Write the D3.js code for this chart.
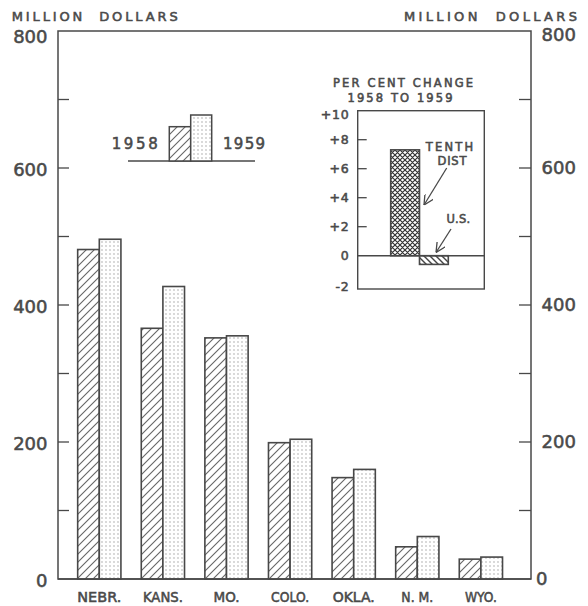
<!DOCTYPE html>
<html><head><meta charset="utf-8">
<script src="https://cdn.jsdelivr.net/npm/d3@7"></script>
<style>body{margin:0;background:#fff}text{font-family:"DejaVu Sans",sans-serif;fill:#4a4a4a;stroke:#4a4a4a;stroke-width:0.55}</style>
</head><body><svg id="c" width="588" height="606"></svg>
<script>
const categories = ["NEBR.","KANS.","MO.","COLO.","OKLA.","N. M.","WYO."];
const values1958 = [481,366,352,199,148,47,29];
const values1959 = [496,427,355,204,160,62,32];
const yTicks = [0,200,400,600,800];
const yMinor = [100,300,500,700];
const insetCats = ["TENTH DIST","U.S."];
const insetValues = [7.3,-0.6];
const insetTicks = [-2,0,2,4,6,8,10];
const insetTickLabels = ["-2","0","+2","+4","+6","+8","+10"];

const svg = d3.select("#c");
const ink = "#484848";
const defs = svg.append("defs");
const hp = defs.append("pattern").attr("id","hatch").attr("patternUnits","userSpaceOnUse").attr("width",8).attr("height",8);
hp.append("rect").attr("width",8).attr("height",8).attr("fill","#fff");
hp.append("path").attr("d","M-2,2 l4,-4 M0,8 l8,-8 M6,10 l4,-4").attr("stroke","#666").attr("stroke-width",1.1);
const dp = defs.append("pattern").attr("id","dots").attr("patternUnits","userSpaceOnUse").attr("width",4).attr("height",4);
dp.append("rect").attr("width",4).attr("height",4).attr("fill","#fff");
dp.append("circle").attr("cx",2).attr("cy",2).attr("r",0.7).attr("fill","#999");
const bp = defs.append("pattern").attr("id","bhatch").attr("patternUnits","userSpaceOnUse").attr("width",6).attr("height",6);
bp.append("rect").attr("width",6).attr("height",6).attr("fill","#fff");
bp.append("path").attr("d","M-2,-2 l10,10 M-2,4 l4,4 M4,-2 l4,4").attr("stroke","#444").attr("stroke-width",1.4);
const cp = defs.append("pattern").attr("id","cross").attr("patternUnits","userSpaceOnUse").attr("width",5).attr("height",5);
cp.append("rect").attr("width",5).attr("height",5).attr("fill","#fff");
cp.append("path").attr("d","M-1,-1 l7,7 M-1,6 l7,-7 M-1,4 l2,2 M4,-1 l2,2 M-1,1 l2,-2 M4,6 l2,-2").attr("stroke","#333").attr("stroke-width",1.2);
const mk = defs.append("marker").attr("id","arr").attr("viewBox","0 0 10 10").attr("refX",10).attr("refY",5)
  .attr("markerWidth",10).attr("markerHeight",10).attr("markerUnits","userSpaceOnUse").attr("orient","auto");
mk.append("path").attr("d","M0,0 L10,5 L0,10").attr("fill","none").attr("stroke",ink).attr("stroke-width",1.3);

function txt(x,y,s,size,len,anchor,adj){
  const t = svg.append("text").attr("x",x).attr("y",y).attr("font-size",size).attr("text-anchor",anchor||"start")
    .attr("xml:space","preserve").text(s);
  if(len) t.attr("textLength",len).attr("lengthAdjust",adj||"spacing");
  return t;
}

const L=58, R=531, T=31, B=579;
const y = d3.scaleLinear().domain([0,800]).range([B,T]);
const x = d3.scaleBand().domain(categories).range([67.5,512.7]).paddingInner(0.32).paddingOuter(0.16);
const xs = d3.scaleBand().domain(["1958","1959"]).range([0,x.bandwidth()]);

svg.append("rect").attr("x",L).attr("y",T).attr("width",R-L).attr("height",B-T).attr("fill","none").attr("stroke",ink).attr("stroke-width",1.5);
const allTicks = yTicks.concat(yMinor).filter(v=>v>0&&v<800);
svg.append("g").selectAll("line").data(allTicks).join("line").attr("x1",L).attr("x2",L+11).attr("y1",d=>y(d)).attr("y2",d=>y(d)).attr("stroke",ink).attr("stroke-width",1.3);
svg.append("g").selectAll("line").data(allTicks).join("line").attr("x1",R-12).attr("x2",R).attr("y1",d=>y(d)).attr("y2",d=>y(d)).attr("stroke",ink).attr("stroke-width",1.3);
svg.append("g").selectAll("text").data(yTicks).join("text").attr("x",47.5).attr("y",d=>Math.max(y(d)+1.5,37)).attr("dy","0.36em")
  .attr("text-anchor","end").attr("font-size",18).text(d=>d);
svg.append("g").selectAll("text").data(yTicks).join("text").attr("x",d=>d===0?536:541.5).attr("y",d=>Math.max(y(d)-0.5,34.5)).attr("dy","0.36em")
  .attr("text-anchor","start").attr("font-size",18).text(d=>d);
txt(11.7,21,"MILLION  DOLLARS",13,166);
txt(404,20.5,"MILLION  DOLLARS",13,173);

const g = svg.append("g");
categories.forEach((c,i)=>{
  const gx = x(c);
  g.append("rect").attr("x",gx+xs("1958")).attr("y",y(values1958[i])).attr("width",xs.bandwidth()).attr("height",y(0)-y(values1958[i]))
    .attr("fill","url(#hatch)").attr("stroke",ink).attr("stroke-width",1.6);
  g.append("rect").attr("x",gx+xs("1959")).attr("y",y(values1959[i])).attr("width",xs.bandwidth()).attr("height",y(0)-y(values1959[i]))
    .attr("fill","url(#dots)").attr("stroke",ink).attr("stroke-width",1.6);
});
const catLens = [44,40,26,38,42,32,32];
categories.forEach((c,i)=>{
  txt(x(c)+x.bandwidth()/2,601.5,c,14,catLens[i],"middle","spacingAndGlyphs");
});
svg.append("line").attr("x1",L).attr("x2",R).attr("y1",B).attr("y2",B).attr("stroke",ink).attr("stroke-width",1.6);

svg.append("line").attr("x1",128).attr("x2",255).attr("y1",161).attr("y2",161).attr("stroke",ink).attr("stroke-width",1.5);
svg.append("rect").attr("x",169.3).attr("y",126.7).attr("width",21.4).attr("height",161-126.7).attr("fill","url(#hatch)").attr("stroke",ink).attr("stroke-width",1.5);
svg.append("rect").attr("x",190.7).attr("y",115).attr("width",21).attr("height",161-115).attr("fill","url(#dots)").attr("stroke",ink).attr("stroke-width",1.5);
txt(111.7,148.5,"1958",15,46);
txt(223,148.5,"1959",15,42);

const iL=357.7, iR=484.3, iT=110.7, iB=289;
const iy = d3.scaleLinear().domain([0,10]).range([255.7,iT]);
const ix = d3.scaleBand().domain(insetCats).range([390.7,448.3]);
svg.append("rect").attr("x",iL).attr("y",iT).attr("width",iR-iL).attr("height",iB-iT).attr("fill","#fff").attr("stroke",ink).attr("stroke-width",1.4);
svg.append("g").selectAll("line").data(insetTicks.filter(v=>v>0&&v<10)).join("line").attr("x1",iL).attr("x2",iL+9)
  .attr("y1",d=>iy(d)).attr("y2",d=>iy(d)).attr("stroke",ink).attr("stroke-width",1.3);
svg.append("g").selectAll("text").data(insetTicks).join("text").attr("x",349.5).attr("y",(d)=>iy(d)+(d===-2?1.5:0)+(d===10?4:0)).attr("dy","0.36em")
  .attr("text-anchor","end").attr("font-size",12.5).attr("letter-spacing",0.8).text((d,i)=>insetTickLabels[i]);
txt(403,86.5,"PER CENT CHANGE",11.5,140,"middle");
txt(400,101.5,"1958 TO 1959",11.5,105,"middle");
const fills=["url(#cross)","url(#bhatch)"];
insetCats.forEach((c,i)=>{
  const v=insetValues[i];
  svg.append("rect").attr("x",ix(c)).attr("y",iy(Math.max(v,0))).attr("width",ix.bandwidth()).attr("height",Math.abs(iy(v)-iy(0)))
    .attr("fill",fills[i]).attr("stroke",ink).attr("stroke-width",1.6);
});
svg.append("line").attr("x1",iL).attr("x2",iR).attr("y1",iy(0)).attr("y2",iy(0)).attr("stroke",ink).attr("stroke-width",1.5);
txt(449.5,151,"TENTH",11.5,47.5,"middle");
txt(452,164.5,"DIST",11.5,29,"middle");
txt(458.3,223,"U.S.",11.5,23.5,"middle");
svg.append("line").attr("x1",446.7).attr("y1",168).attr("x2",424).attr("y2",205).attr("stroke",ink).attr("stroke-width",1.3).attr("marker-end","url(#arr)");
svg.append("line").attr("x1",451).attr("y1",229).attr("x2",436).attr("y2",252.5).attr("stroke",ink).attr("stroke-width",1.3).attr("marker-end","url(#arr)");
</script></body></html>
